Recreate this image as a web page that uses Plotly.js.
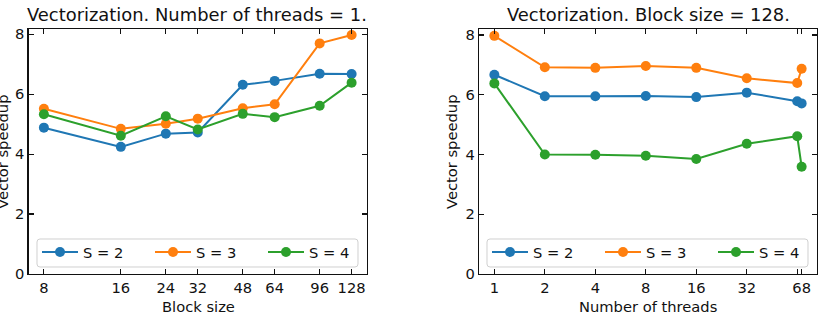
<!DOCTYPE html>
<html>
<head>
<meta charset="utf-8">
<script src="https://cdn.plot.ly/plotly-3.0.1.min.js"></script>
<style>
  html, body { margin: 0; padding: 0; background: #fff; }
  #chart { width: 835px; height: 318px; }
</style>
</head>
<body>
<div id="chart"></div>
<script>
// Left panel: speedup vs block size, single thread
const blockSizes = [8, 16, 24, 32, 48, 64, 96, 128];
const blockTickText = ['8', '16', '24', '32', '48', '64', '96', '128'];
const blockS2 = [4.88, 4.24, 4.68, 4.72, 6.31, 6.44, 6.68, 6.67];
const blockS3 = [5.51, 4.84, 5.01, 5.18, 5.53, 5.66, 7.69, 7.97];
const blockS4 = [5.33, 4.61, 5.26, 4.82, 5.34, 5.23, 5.61, 6.38];

// Right panel: speedup vs number of threads, block size 128
const threads = [1, 2, 4, 8, 16, 32, 64, 68];
const threadTickText = ['1', '2', '4', '8', '16', '32', '', '68'];
const threadS2 = [6.67, 5.95, 5.95, 5.96, 5.92, 6.07, 5.78, 5.71];
const threadS3 = [7.97, 6.92, 6.90, 6.96, 6.90, 6.55, 6.39, 6.87];
const threadS4 = [6.38, 4.00, 3.99, 3.96, 3.85, 4.36, 4.61, 3.59];

const seriesNames = ['S = 2', 'S = 3', 'S = 4'];
const colors = ['#1f77b4', '#ff7f0e', '#2ca02c'];

const W = 835, H = 318;
const FONT = 'DejaVu Sans, sans-serif';

function series(x, y, i, xa, ya, leg) {
  return {
    x: x, y: y, name: seriesNames[i],
    type: 'scatter', mode: 'lines+markers',
    xaxis: xa, yaxis: ya, legend: leg,
    line: { color: colors[i], width: 2 },
    marker: { color: colors[i], size: 10 }
  };
}

const traces = [
  series(blockSizes, blockS2, 0, 'x', 'y', 'legend'),
  series(blockSizes, blockS3, 1, 'x', 'y', 'legend'),
  series(blockSizes, blockS4, 2, 'x', 'y', 'legend'),
  series(threads, threadS2, 0, 'x2', 'y2', 'legend2'),
  series(threads, threadS3, 1, 'x2', 'y2', 'legend2'),
  series(threads, threadS4, 2, 'x2', 'y2', 'legend2')
];

// pixel -> paper helpers
const px = v => v / W;
const py = v => 1 - v / H;

function logRange(lo, hi) {
  const a = Math.log10(lo), b = Math.log10(hi);
  const m = 0.05 * (b - a);
  return [a - m, b + m];
}

// rounded legend frame, in paper coordinates
function roundedBox(x0, y0, x1, y1, r) {
  const pts = [
    ['M', x0 + r, y0], ['L', x1 - r, y0], ['Q', x1, y0, x1, y0 + r],
    ['L', x1, y1 - r], ['Q', x1, y1, x1 - r, y1], ['L', x0 + r, y1],
    ['Q', x0, y1, x0, y1 - r], ['L', x0, y0 + r], ['Q', x0, y0, x0 + r, y0]
  ];
  return pts.map(p => {
    const out = [p[0]];
    for (let k = 1; k < p.length; k += 2) out.push(px(p[k]).toFixed(5) + ',' + py(p[k + 1]).toFixed(5));
    return out[0] + ' ' + out.slice(1).join(' ');
  }).join(' ') + ' Z';
}

const axisCommon = {
  showgrid: false, zeroline: false,
  showline: true, linecolor: '#111', linewidth: 1.3,
  mirror: 'ticks', ticks: 'inside', ticklen: 5, tickwidth: 1.1, tickcolor: '#111',
  tickfont: { family: FONT, size: 14.7, color: '#111' },
  fixedrange: true
};

const yDomain = [py(274), py(29)];

function legendAt(xLeft) {
  return {
    orientation: 'h', x: px(xLeft), y: py(236), xanchor: 'left', yanchor: 'top',
    xref: 'paper', yref: 'paper',
    bgcolor: 'rgba(0,0,0,0)', borderwidth: 0,
    font: { family: FONT, size: 14.7, color: '#111' },
    itemwidth: 36,
    entrywidth: 62, entrywidthmode: 'pixels'
  };
}

const titleFont = { family: FONT, size: 17.9, color: '#111' };
const labelFont = { family: FONT, size: 14.7, color: '#111' };
function note(text, x, y, font, angle) {
  return { text: text, xref: 'paper', yref: 'paper', x: px(x), y: py(y),
    xanchor: 'center', yanchor: 'middle', showarrow: false, font: font,
    textangle: angle || 0 };
}

const layout = {
  width: W, height: H,
  margin: { l: 0, r: 0, t: 0, b: 0 },
  paper_bgcolor: '#fff', plot_bgcolor: '#fff',
  font: { family: FONT, size: 14.7, color: '#111' },
  showlegend: true,
  xaxis: Object.assign({}, axisCommon, {
    type: 'log', domain: [px(28.5), px(367)], anchor: 'y',
    range: logRange(8, 128),
    tickmode: 'array', tickvals: blockSizes, ticktext: blockTickText
  }),
  yaxis: Object.assign({}, axisCommon, {
    domain: yDomain, anchor: 'x', range: [0, 8.17],
    tickmode: 'array', tickvals: [0, 2, 4, 6, 8]
  }),
  xaxis2: Object.assign({}, axisCommon, {
    type: 'log', domain: [px(479), px(817)], anchor: 'y2',
    range: logRange(1, 68),
    tickmode: 'array', tickvals: threads, ticktext: threadTickText
  }),
  yaxis2: Object.assign({}, axisCommon, {
    domain: yDomain, anchor: 'x2', range: [0, 8.2],
    tickmode: 'array', tickvals: [0, 2, 4, 6, 8]
  }),
  legend: legendAt(37),
  legend2: legendAt(487),
  shapes: [
    { type: 'path', xref: 'paper', yref: 'paper', layer: 'above',
      path: roundedBox(37, 239, 358, 267, 3),
      fillcolor: 'rgba(255,255,255,0.8)', line: { color: '#d0d0d0', width: 1 } },
    { type: 'path', xref: 'paper', yref: 'paper', layer: 'above',
      path: roundedBox(487, 239, 808, 267, 3),
      fillcolor: 'rgba(255,255,255,0.8)', line: { color: '#d0d0d0', width: 1 } }
  ],
  annotations: [
    note('Vectorization. Number of threads = 1.', 197, 15, titleFont),
    note('Vectorization. Block size = 128.', 648, 15, titleFont),
    note('Block size', 198, 306, labelFont),
    note('Number of threads', 648, 306, labelFont),
    note('Vector speedup', 2, 152, labelFont, -90),
    note('Vector speedup', 451, 152, labelFont, -90)
  ]
};

Plotly.newPlot('chart', traces, layout, { displayModeBar: false, staticPlot: true });
</script>
</body>
</html>
